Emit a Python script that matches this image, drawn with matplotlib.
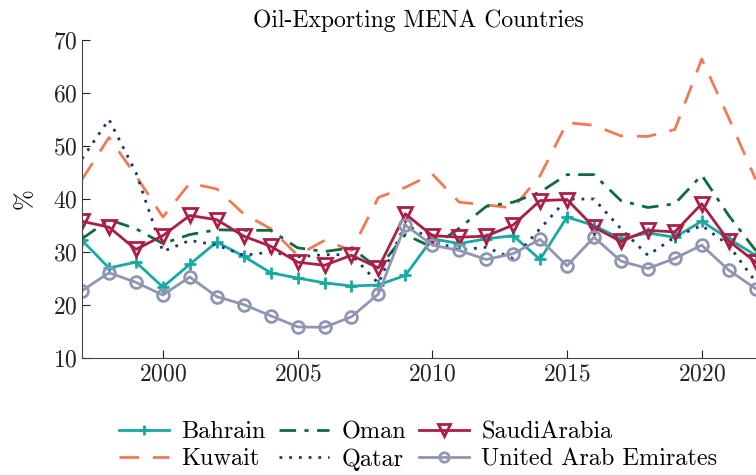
import numpy as np
import matplotlib
matplotlib.use("Agg")
import matplotlib.pyplot as plt

plt.rcParams["font.family"] = "serif"
plt.rcParams["font.serif"] = ["cmr10"]
plt.rcParams["mathtext.fontset"] = "cm"
plt.rcParams["axes.formatter.use_mathtext"] = True

years = list(range(1997, 2023))

bahrain = [32.2, 27.0, 28.1, 23.4, 27.7, 31.9, 29.2, 26.1, 25.1, 24.2, 23.6, 23.8, 25.6,
           32.5, 31.6, 32.5, 33.1, 28.6, 36.6, 35.0, 32.5, 33.6, 32.8, 35.8, 32.5, 29.4]
kuwait = [43.7, 51.6, 44.4, 36.6, 43.0, 41.9, 37.2, 34.4, 29.4, 32.2, 30.3, 40.3, 42.2,
          44.7, 39.4, 38.9, 38.3, 44.4, 54.4, 53.9, 51.9, 51.8, 53.1, 66.4, 55.3, 43.7]
oman = [32.5, 36.1, 34.4, 31.6, 33.3, 34.2, 34.1, 34.1, 30.8, 30.1, 30.8, 26.9, 33.3,
        30.9, 34.5, 38.6, 39.4, 41.3, 44.6, 44.6, 39.7, 38.4, 39.1, 44.5, 36.9, 30.3]
qatar = [47.6, 55.0, 45.0, 30.1, 32.2, 31.3, 29.4, 30.0, 29.1, 29.5, 29.5, 24.1, 35.3,
         32.2, 30.4, 30.9, 28.8, 34.4, 40.0, 40.0, 34.4, 29.4, 32.8, 35.0, 31.3, 24.4]
saudi = [35.8, 34.7, 30.5, 33.1, 36.9, 36.1, 33.0, 31.1, 28.1, 27.5, 29.4, 27.0, 37.2,
         33.1, 32.8, 33.0, 35.1, 39.7, 39.9, 34.7, 32.0, 34.1, 33.8, 39.1, 32.1, 28.1]
uae = [22.7, 26.1, 24.3, 21.9, 25.3, 21.6, 20.1, 18.0, 15.9, 15.8, 17.8, 22.1, 35.1,
       31.3, 30.3, 28.6, 29.7, 32.4, 27.4, 32.8, 28.3, 26.9, 28.8, 31.3, 26.6, 23.1]

fig = plt.figure(figsize=(7.56, 4.75), dpi=100)
ax = fig.add_axes([0.1085, 0.246, 0.891, 0.670])

lw = 2.0
ax.plot(years, bahrain, color="#17aaa3", lw=lw, marker="+", ms=8.5, mew=2, label="Bahrain")
ax.plot(years, kuwait, color="#ef7b55", lw=lw, ls=(0, (7, 5)), label="Kuwait")
ax.plot(years, oman, color="#0f6b3b", lw=lw, ls=(0, (6, 3, 1.5, 3)), label="Oman")
ax.plot(years, qatar, color="#163a75", lw=lw, ls=(0, (1, 2.5)), label="Qatar")
ax.plot(years, saudi, color="#ab1e46", lw=lw, marker="v", ms=10, mfc="none", mew=2,
        label="SaudiArabia")
ax.plot(years, uae, color="#9096b2", lw=lw, marker="o", ms=8.5, mfc="none", mew=2,
        label="United Arab Emirates")

ax.set_xlim(1997, 2022)
ax.set_ylim(10, 70)
ax.set_xticks([2000, 2005, 2010, 2015, 2020])
ax.set_yticks([10, 20, 30, 40, 50, 60, 70])
ax.set_ylabel("%", fontsize=18, labelpad=12)
ax.set_title("Oil-Exporting MENA Countries", fontsize=17, pad=9)

for s in ["top", "right"]:
    ax.spines[s].set_visible(False)
for s in ["left", "bottom"]:
    ax.spines[s].set_color("#444444")
ax.tick_params(direction="in", length=6, labelsize=17, colors="#222222")

fig.legend(loc="upper left", bbox_to_anchor=(0.145, 0.134), ncol=3, frameon=False,
           fontsize=17.5, handlelength=2.05, columnspacing=0.55, handletextpad=0.5,
           labelspacing=0.2, borderaxespad=0, markerscale=0.8)

fig.savefig("out.png", dpi=100)
